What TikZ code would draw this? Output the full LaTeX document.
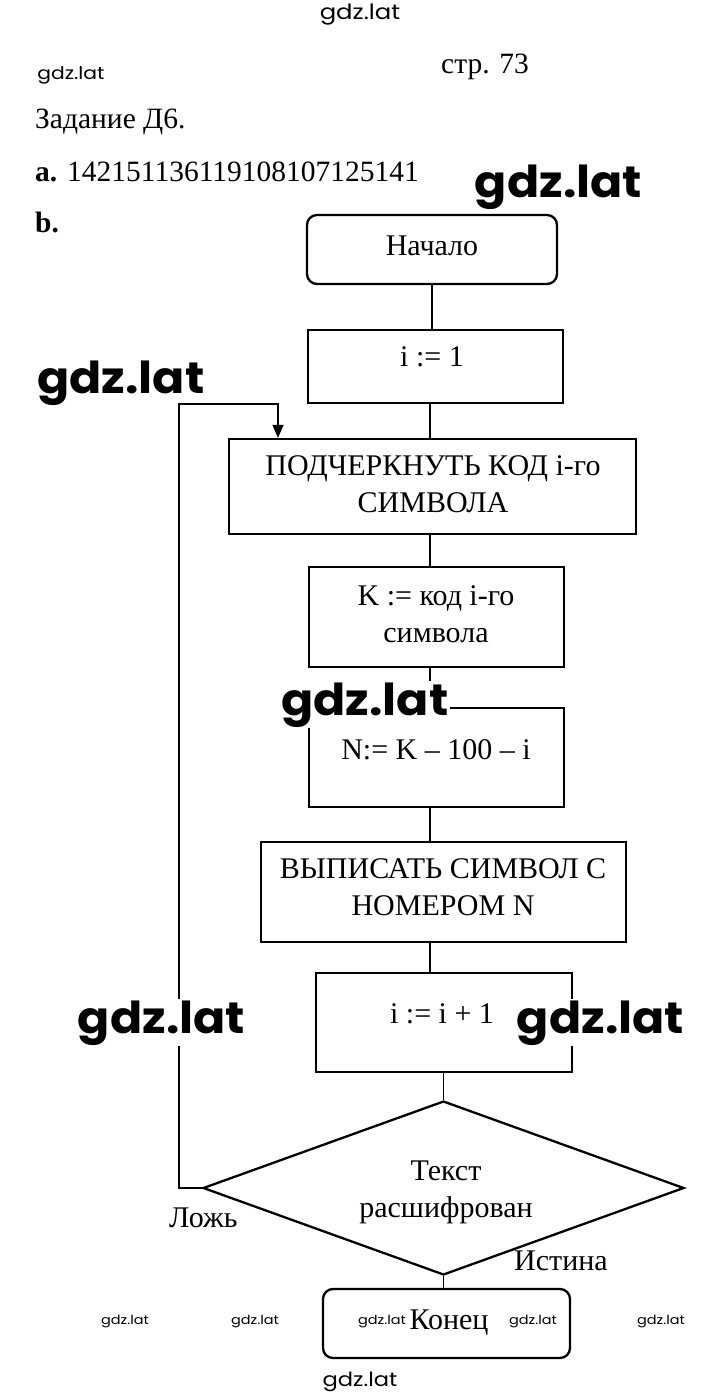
\documentclass[tikz,border=0pt]{standalone}
\usepackage{fontspec}
\setmainfont{Liberation Serif}
\newfontfamily\wmfont{Poppins}
\usetikzlibrary{arrows.meta,shapes.geometric}
\tikzset{
  box/.style={draw, line width=2.3pt, rectangle, inner sep=0pt},
  rbox/.style={box, rounded corners=10pt},
  conn/.style={line width=1.2pt},
  txt/.style={inner sep=0pt, anchor=base, font=\fontsize{30}{37}\selectfont, align=center},
  head/.style={inner sep=0pt, anchor=base west, font=\fontsize{29.5}{35}\selectfont},
  wmbig/.style={anchor=base, inner sep=1pt, font=\wmfont\bfseries\fontsize{44}{44}\selectfont, xscale=1.08},
  wmfill/.style={wmbig, fill=white},
  wmsmall/.style={anchor=base, inner sep=0pt, font=\wmfont\fontsize{#1}{#1}\selectfont, xscale=1.16}
}
\begin{document}
\begin{tikzpicture}[x=1pt,y=-1pt]
\useasboundingbox[fill=white] (0,0) rectangle (720,1397);
% header
\node[head] (hp) at (441,74) {стр. 73};
\node[head] (hz) at (35,128) {Задание Д6.};
\node[head] (ha) at (35,181) {\textbf{a.} 142151136119108107125141};
\node[head] (hb) at (35,232) {\textbf{b.}};
% boxes
\node[rbox, minimum width=250pt, minimum height=69pt] (start) at (432,249.5) {};
\node[txt] (tstart) at (432,255) {Начало};
\node[box, minimum width=255pt, minimum height=73pt] (b1) at (435.5,366.5) {};
\node[txt] (tb1) at (432,366) {i := 1};
\node[box, minimum width=407pt, minimum height=95pt] (b2) at (432.5,486.5) {};
\node[txt] (tb2) at (433,512) {ПОДЧЕРКНУТЬ КОД i-го\\СИМВОЛА};
\node[box, minimum width=255pt, minimum height=100pt] (b3) at (436.5,617) {};
\node[txt] (tb3) at (436,642) {K := код i-го\\символа};
\node[box, minimum width=255pt, minimum height=99pt] (b4) at (436.5,757.5) {};
\node[txt] (tb4) at (436,759) {N:= K – 100 – i};
\node[box, minimum width=365pt, minimum height=100pt] (b5) at (443.5,892) {};
\node[txt] (tb5) at (443,915) {ВЫПИСАТЬ СИМВОЛ С\\НОМЕРОМ N};
\node[box, minimum width=256pt, minimum height=99pt] (b6) at (444,1022.5) {};
\node[txt] (tb6) at (442,1023) {i := i + 1};
\node[draw, diamond, line width=2.3pt, inner sep=0pt, minimum width=481pt, minimum height=174pt] (dia) at (443.5,1188) {};
\node[txt] (tdia) at (446,1217) {Текст\\расшифрован};
\node[rbox, minimum width=247pt, minimum height=69pt] (end) at (446.5,1323.5) {};
\node[txt] (tend) at (449,1329) {Конец};
\node[txt, anchor=base west] (lf) at (169,1227) {Ложь};
\node[txt, anchor=base west] (lt) at (514,1270) {Истина};
% connectors
\coordinate (ln) at (430,0);
\coordinate (lp) at (179,404);
\coordinate (ar) at (278,0);
\draw[conn] (start.south) -- (start.south |- b1.north);
\draw[conn] (b1.south -| ln) -- (b2.north -| ln);
\draw[conn] (b2.south -| ln) -- (b3.north -| ln);
\draw[conn] (b3.south -| ln) -- (b4.north -| ln);
\draw[conn] (b4.south -| ln) -- (b5.north -| ln);
\draw[conn] (b5.south -| ln) -- (b6.north -| ln);
\draw[conn] (dia.north) -- (dia.north |- b6.south);
\draw[conn] (dia.south) -- (dia.south |- end.north);
\draw[conn, -{Triangle[length=13pt,width=11pt]}] (dia.west) -| (lp) -| (b2.north -| ar);
% watermarks
\node[wmsmall=21] (w1) at (360,20) {gdz.lat};
\node[wmsmall=17.5] (w2) at (71,80) {gdz.lat};
\node[wmbig] (w3) at (558.5,197) {gdz.lat};
\node[wmbig] (w4) at (121,393) {gdz.lat};
\node[wmfill] (w5) at (365,715) {gdz.lat};
\node[wmfill] (w6) at (161.5,1033) {gdz.lat};
\node[wmfill] (w7) at (600.5,1033) {gdz.lat};
\node[wmsmall=12.5] (w8) at (125,1324) {gdz.lat};
\node[wmsmall=12.5] (w9) at (255,1324) {gdz.lat};
\node[wmsmall=12.5] (w10) at (382,1324) {gdz.lat};
\node[wmsmall=12.5] (w11) at (533,1324) {gdz.lat};
\node[wmsmall=12.5] (w12) at (661,1324) {gdz.lat};
\node[wmsmall=19.5] (w13) at (360,1386) {gdz.lat};
\end{tikzpicture}
\end{document}
